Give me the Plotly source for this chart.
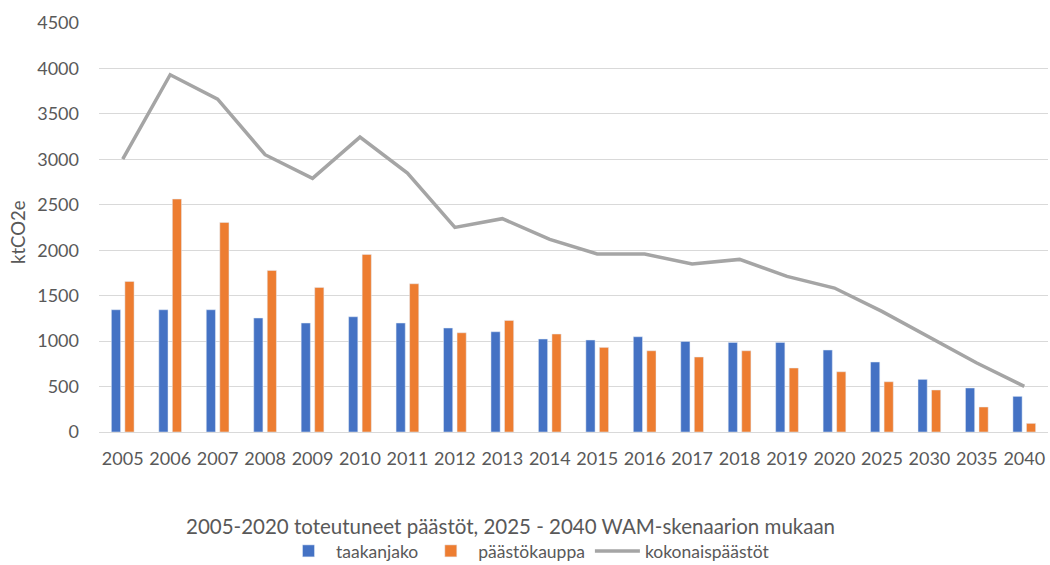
import plotly.graph_objects as go

years = ["2005", "2006", "2007", "2008", "2009", "2010", "2011", "2012", "2013", "2014",
         "2015", "2016", "2017", "2018", "2019", "2020", "2025", "2030", "2035", "2040"]
taakanjako = [1345, 1345, 1345, 1254, 1199, 1268, 1199, 1144, 1103, 1023,
              1012, 1048, 997, 986, 986, 902, 770, 579, 484, 392]
paastokauppa = [1657, 2563, 2306, 1778, 1591, 1954, 1631, 1092, 1228, 1078,
                931, 894, 825, 894, 704, 663, 553, 462, 275, 95]
kokonais = [3003, 3931, 3663, 3051, 2790, 3245, 2849, 2251, 2347, 2120,
            1958, 1958, 1848, 1899, 1712, 1584, 1327, 1040, 759, 502]

FONT = "Lato, 'Open Sans', sans-serif"
TXT = "#595959"

W, H = 1050, 565
L, R, T, B = 99, 2, 23, 565 - 432
pw = W - L - R
ph = H - T - B


def px_x(x):
    return (x - L) / pw


def px_y(y):
    return (H - B - y) / ph


fig = go.Figure()
fig.add_trace(go.Bar(x=years, y=taakanjako, name="taakanjako", marker_color="#4472C4"))
fig.add_trace(go.Bar(x=years, y=paastokauppa, name="päästökauppa", marker_color="#ED7D31"))
fig.add_trace(go.Scatter(x=years, y=kokonais, name="kokonaispäästöt", mode="lines",
                         line=dict(color="#A5A5A5", width=3.5)))

fig.update_layout(
    width=W, height=H,
    margin=dict(l=L, r=R, t=T, b=B, autoexpand=False),
    paper_bgcolor="white", plot_bgcolor="white",
    font=dict(family=FONT, color=TXT, size=18),
    barmode="group", bargap=0.43, bargroupgap=0.32,
    showlegend=True,
    legend=dict(orientation="h", x=px_x(528), xanchor="center", y=px_y(551), yanchor="middle",
                font=dict(size=17.5, color=TXT), traceorder="normal", itemwidth=45,
                tracegroupgap=0),
    annotations=[
        dict(text="2005-2020 toteutuneet päästöt, 2025 - 2040 WAM-skenaarion mukaan",
             xref="paper", yref="paper", x=px_x(510), y=px_y(526), xanchor="center",
             yanchor="middle", showarrow=False, font=dict(size=20.5, color=TXT)),
        dict(text="ktCO2e", textangle=-90, xref="paper", yref="paper", x=px_x(18),
             y=px_y(232), xanchor="center", yanchor="middle", showarrow=False,
             font=dict(size=18.5, color=TXT)),
    ],
)
fig.update_xaxes(showgrid=False, showline=False, ticks="", ticklabelstandoff=14,
                 tickfont=dict(size=18, color=TXT), automargin=False)
fig.update_yaxes(range=[0, 4500], dtick=500, showgrid=True, gridcolor="#D9D9D9", gridwidth=1,
                 zeroline=True, zerolinecolor="#D9D9D9", zerolinewidth=1, showline=False,
                 ticks="", ticklabelstandoff=19, tickfont=dict(size=18, color=TXT),
                 automargin=False)

fig.write_html("out.html", config={"displayModeBar": False},
               post_script="document.body.style.margin='0';document.body.style.overflow='hidden';")
